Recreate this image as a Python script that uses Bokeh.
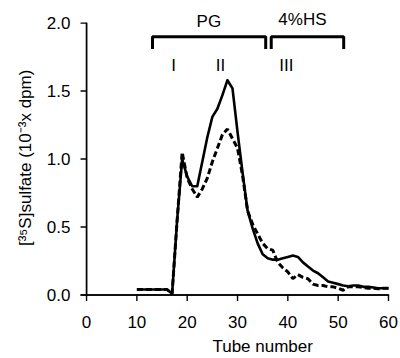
import math
from bokeh.plotting import figure
from bokeh.models import Range1d, FixedTicker, LinearAxis, NumeralTickFormatter
from bokeh.core.properties import value
from bokeh.embed import file_html
from bokeh.resources import INLINE

# ---- data ----
tubes = list(range(10, 61))
solid_cpm = [0.04, 0.04, 0.04, 0.04, 0.04, 0.04, 0.04, 0.01, 0.55, 1.00,
             0.87, 0.80, 0.80, 0.98, 1.16, 1.31, 1.37, 1.47, 1.58, 1.52,
             1.20, 0.90, 0.62, 0.49, 0.38, 0.30, 0.27, 0.26, 0.26, 0.27,
             0.28, 0.29, 0.28, 0.24, 0.21, 0.18, 0.16, 0.13, 0.10, 0.09,
             0.08, 0.07, 0.065, 0.07, 0.07, 0.06, 0.06, 0.055, 0.05, 0.05,
             0.05]
dashed_cpm = [0.04, 0.04, 0.04, 0.04, 0.04, 0.04, 0.04, 0.01, 0.55, 1.05,
              0.86, 0.78, 0.72, 0.78, 0.86, 0.98, 1.08, 1.18, 1.22, 1.15,
              1.08, 0.88, 0.62, 0.52, 0.45, 0.38, 0.34, 0.33, 0.24, 0.20,
              0.17, 0.12, 0.15, 0.13, 0.12, 0.08, 0.07, 0.07, 0.06, 0.06,
              0.05, 0.035, 0.06, 0.06, 0.06, 0.055, 0.05, 0.05, 0.045, 0.05,
              0.05]

x_ticks = [0, 10, 20, 30, 40, 50, 60]
y_ticks = [0.0, 0.5, 1.0, 1.5, 2.0]
x_title = "Tube number"
y_title = "[³⁵S]sulfate  (10⁻³x dpm)"

bracket_start = [13.1, 36.7]
bracket_end = [35.6, 51.1]
bracket_top = 1.90
bracket_leg = 1.81

label_text = ["PG", "4%HS", "I", "II", "III"]
label_x = [24.3, 42.9, 17.3, 26.6, 39.7]
label_y = [2.015, 2.03, 1.69, 1.69, 1.69]

FONT = "Liberation Sans"
FS = "17px"

# frame geometry (screen pixels) -> small data-unit lengths for ticks/lines
FRAME_W, FRAME_H = 312, 292
X0, X1 = -1.6, 60.4
Y1 = 2.1
Y0 = -6.5 / (FRAME_H / (Y1 + 0.0477))
px_x = (X1 - X0) / FRAME_W
px_y = (Y1 - Y0) / FRAME_H
tick_dx, tick_dy = 6 * px_x, 6 * px_y
hx, hy = 0.7 * px_x, 0.7 * px_y

p = figure(width=400, height=358, output_backend="svg", toolbar_location=None,
           x_range=Range1d(X0, X1), y_range=Range1d(Y0, Y1),
           min_border_left=78, min_border_right=10, min_border_top=9,
           min_border_bottom=57)
p.outline_line_color = None
p.grid.visible = False

def style_axis(ax):
    ax.axis_line_color = None
    ax.major_tick_line_color = None
    ax.minor_tick_line_color = None
    ax.major_tick_in = 0
    ax.major_tick_out = 0
    ax.minor_tick_in = 0
    ax.minor_tick_out = 0
    ax.major_label_text_font = FONT
    ax.major_label_text_font_size = FS
    ax.major_label_text_color = "black"
    ax.axis_label_text_font = FONT
    ax.axis_label_text_font_size = FS
    ax.axis_label_text_font_style = "normal"
    ax.axis_label_text_color = "black"

style_axis(p.xaxis[0])
style_axis(p.yaxis[0])
p.xaxis.ticker = FixedTicker(ticks=x_ticks)
p.yaxis.ticker = FixedTicker(ticks=y_ticks)
p.yaxis.formatter = NumeralTickFormatter(format="0.0")
p.xaxis.major_label_standoff = 14
p.yaxis.major_label_standoff = 8

# y title: extra, otherwise empty, left axis
p.extra_y_ranges = {"ylab": Range1d(Y0, Y1)}
ylab_axis = LinearAxis(y_range_name="ylab", ticker=FixedTicker(ticks=[]),
                       bounds=(0, 1.79))
style_axis(ylab_axis)
ylab_axis.major_label_standoff = 0
ylab_axis.axis_label = y_title
ylab_axis.axis_label_standoff = 9
p.add_layout(ylab_axis, "left")

# x title: single labelled tick of an extra bottom axis
p.extra_x_ranges = {"xlab": Range1d(X0, X1)}
xlab_axis = LinearAxis(x_range_name="xlab", ticker=FixedTicker(ticks=[35]),
                       major_label_overrides={35: x_title})
style_axis(xlab_axis)
xlab_axis.major_label_standoff = 6
p.add_layout(xlab_axis, "below")

# axis lines and outward ticks as filled thin rectangles (+ line fallback)
q_left = [-hx, -tick_dx] + [t - hx for t in x_ticks] + [-tick_dx for _ in y_ticks]
q_right = [hx, x_ticks[-1] + hx] + [t + hx for t in x_ticks] + [0 for _ in y_ticks]
q_bottom = [-hy, -hy] + [-tick_dy for _ in x_ticks] + [t - hy for t in y_ticks]
q_top = [y_ticks[-1] + hy, hy] + [0 for _ in x_ticks] + [t + hy for t in y_ticks]
p.quad(left=q_left, right=q_right, bottom=q_bottom, top=q_top,
       fill_color="black", line_color=None)
p.line(x=[x_ticks[0], x_ticks[0], x_ticks[-1]], y=[y_ticks[-1], y_ticks[0], y_ticks[0]],
       line_color="black", line_width=1.4)

# data
p.line(tubes, solid_cpm, line_color="black", line_width=2.6, line_join="round")
p.line(tubes, dashed_cpm, line_color="black", line_width=3, line_dash="6 3")

# brackets and region labels
bx = [[s, s, e, e] for s, e in zip(bracket_start, bracket_end)]
by = [[bracket_leg, bracket_top, bracket_top, bracket_leg] for _ in bracket_start]
p.multi_line(bx, by, line_color="black", line_width=3)

p.text(x=label_x, y=label_y, text=label_text, text_align="center",
       text_baseline="middle", text_font=value(FONT), text_font_size=FS,
       text_color="black")

open("out.html", "w").write(file_html(p, INLINE))
